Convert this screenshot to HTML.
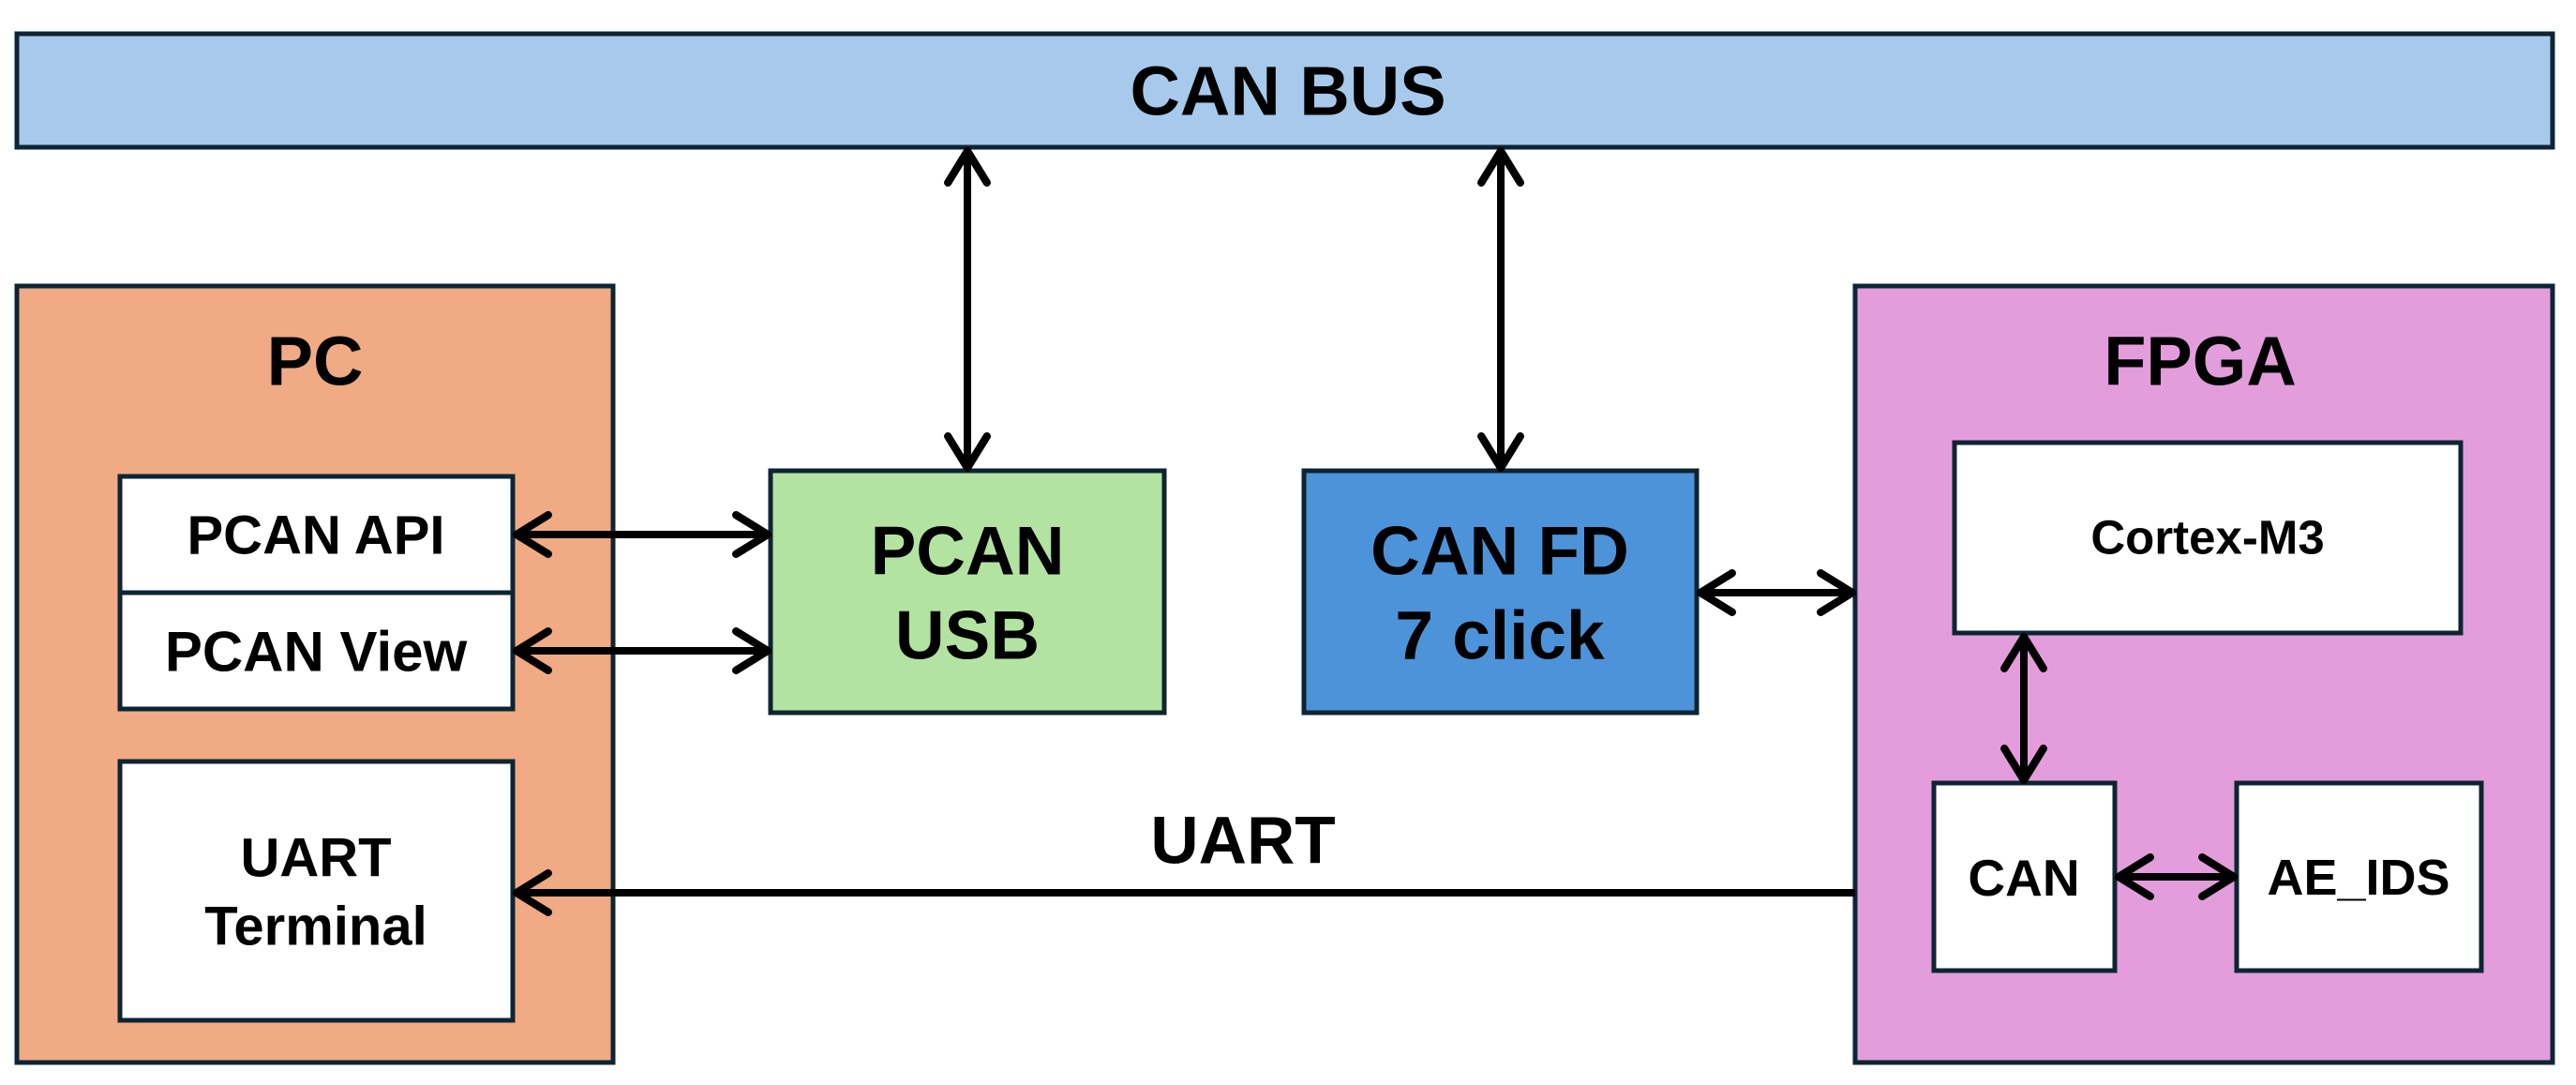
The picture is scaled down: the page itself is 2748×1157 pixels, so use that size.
<!DOCTYPE html>
<html><head><meta charset="utf-8"><style>
html,body{margin:0;padding:0;background:#fff}
svg{display:block}
text{font-family:"Liberation Sans","Noto Sans CJK KR",sans-serif;font-weight:bold;fill:#000;text-anchor:middle;dominant-baseline:central}
</style></head><body>
<svg width="2748" height="1157" viewBox="0 0 2748 1157" xmlns="http://www.w3.org/2000/svg">
<defs>
<marker id="a" viewBox="0 0 20 20" refX="18" refY="10" markerWidth="6.5" markerHeight="6.5" orient="auto-start-reverse" markerUnits="strokeWidth">
<path d="M5,2 L18,10 L5,18" fill="none" stroke="#000" stroke-width="3.2" stroke-linecap="round" stroke-linejoin="round"/>
</marker>
</defs>
<g stroke="#0d2533" stroke-width="5">
<rect x="18" y="36" width="2705" height="121" fill="#a7c9eb"/>
<rect x="18" y="305" width="636" height="828" fill="#f0aa84"/>
<rect x="1979" y="305" width="744" height="828" fill="#e39ddb"/>
<rect x="128" y="508" width="419" height="124" fill="#fff"/>
<rect x="128" y="632" width="419" height="124" fill="#fff"/>
<rect x="128" y="812" width="419" height="276" fill="#fff"/>
<rect x="822" y="502" width="420" height="258" fill="#b3e3a1"/>
<rect x="1391" y="502" width="419" height="258" fill="#4d93d9"/>
<rect x="2085" y="472" width="540" height="203" fill="#fff"/>
<rect x="2063" y="835" width="193" height="200" fill="#fff"/>
<rect x="2386" y="835" width="261" height="200" fill="#fff"/>
</g>
<g stroke="#000" stroke-width="8" fill="none">
<line x1="1032" y1="161" x2="1032" y2="499" marker-start="url(#a)" marker-end="url(#a)"/>
<line x1="1601" y1="161" x2="1601" y2="499" marker-start="url(#a)" marker-end="url(#a)"/>
<line x1="551" y1="570" x2="819" y2="570" marker-start="url(#a)" marker-end="url(#a)"/>
<line x1="551" y1="694" x2="819" y2="694" marker-start="url(#a)" marker-end="url(#a)"/>
<line x1="1814" y1="632" x2="1976" y2="632" marker-start="url(#a)" marker-end="url(#a)"/>
<line x1="2159" y1="679" x2="2159" y2="832" marker-start="url(#a)" marker-end="url(#a)"/>
<line x1="2260" y1="935" x2="2383" y2="935" marker-start="url(#a)" marker-end="url(#a)"/>
<line x1="1979" y1="952" x2="551" y2="952" marker-end="url(#a)"/>
</g>
<text x="1374" y="97" font-size="74">CAN BUS</text>
<text x="336" y="385" font-size="74">PC</text>
<text x="2347" y="385" font-size="74">FPGA</text>
<text x="337" y="571" font-size="58">PCAN API</text>
<text x="337" y="695" font-size="60">PCAN View</text>
<text x="337" y="915" font-size="58">UART</text>
<text x="337" y="988" font-size="58">Terminal</text>
<text x="1032" y="588" font-size="73">PCAN</text>
<text x="1032" y="678" font-size="73">USB</text>
<text x="1600" y="588" font-size="73">CAN FD</text>
<text x="1600" y="678" font-size="73">7 click</text>
<text x="2355" y="573" font-size="51">Cortex-M3</text>
<text x="2159" y="936" font-size="55">CAN</text>
<text x="2516" y="936" font-size="54">AE_IDS</text>
<text x="1326" y="897" font-size="71">UART</text>
</svg>
</body></html>
